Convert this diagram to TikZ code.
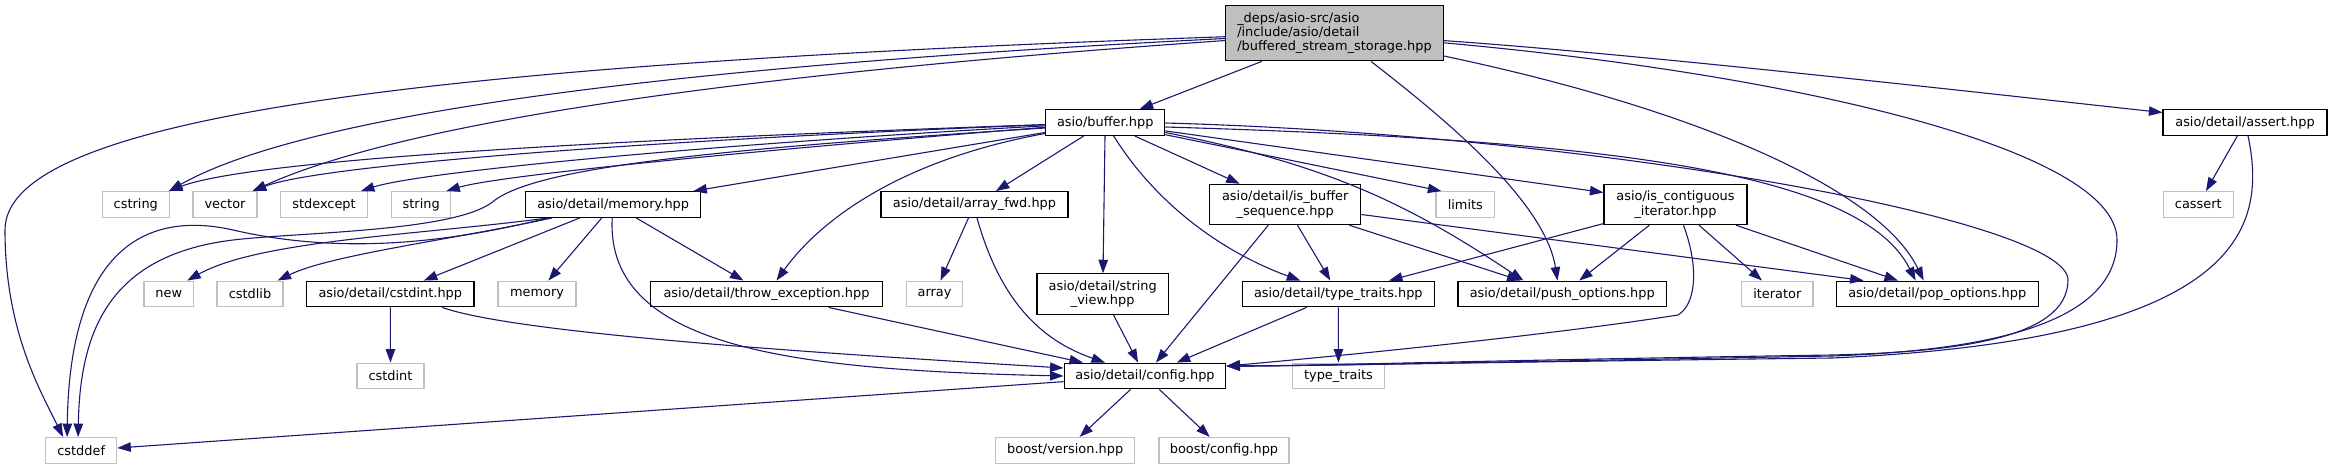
\documentclass[tikz,border=0pt]{standalone}
\usepackage{fontspec}
\setmainfont{DejaVu Sans}
\usetikzlibrary{arrows.meta}
\definecolor{edgeblue}{HTML}{191970}
\definecolor{extgray}{HTML}{C0C0C0}
\definecolor{mainfill}{HTML}{BFBFBF}
\begin{document}
\begin{tikzpicture}[x=1pt,y=-1pt,
  box/.style={rectangle, draw=black, fill=white, line width=1.2pt, inner sep=0pt,
    minimum height=25.7pt, font=\fontsize{12.9pt}{14.3pt}\selectfont, align=center},
  ext/.style={box, draw=extgray},
  two/.style={minimum height=40.3pt},
  edge/.style={draw=edgeblue, line width=1.1pt, -{Triangle[length=13.5pt,width=9.5pt]}},
]
\useasboundingbox (0,0) rectangle (2332,469);

% row 0
\node[box, fill=mainfill, minimum width=217.6pt, minimum height=55.7pt, align=left] (main) at (1334.5,33)
  {\_deps/asio-src/asio\\/include/asio/detail\\/buffered\_stream\_storage.hpp};
% row 1
\node[box, minimum width=119pt] (buffer) at (1105.2,122.5) {asio/buffer.hpp};
\node[box, minimum width=164pt] (assert) at (2245,122.5) {asio/detail/assert.hpp};
% row 2
\node[ext, minimum width=67pt] (cstring) at (135.8,204.5) {cstring};
\node[ext, minimum width=64pt] (vector) at (225,204.5) {vector};
\node[ext, minimum width=86.7pt] (stdexcept) at (324,204.5) {stdexcept};
\node[ext, minimum width=59pt] (string) at (421.2,204.5) {string};
\node[box, minimum width=175pt] (memhpp) at (613.2,204.5) {asio/detail/memory.hpp};
\node[box, minimum width=187pt] (arrayfwd) at (974.5,204.5) {asio/detail/array\_fwd.hpp};
\node[box, two, minimum width=151pt] (isbuf) at (1285.2,204.5) {asio/detail/is\_buffer\\\_sequence.hpp};
\node[ext, minimum width=58.7pt] (limits) at (1465.3,204.5) {limits};
\node[box, two, minimum width=143pt] (iscont) at (1675.5,204.5) {asio/is\_contiguous\\\_iterator.hpp};
\node[ext, minimum width=70pt] (cassert) at (2198.3,204.5) {cassert};
% row 3
\node[ext, minimum width=49.7pt] (new) at (168.8,294) {new};
\node[ext, minimum width=66pt] (cstdlib) at (250,294) {cstdlib};
\node[box, minimum width=167.3pt] (cstdinthpp) at (390.3,294) {asio/detail/cstdint.hpp};
\node[ext, minimum width=78pt] (memory) at (537,294) {memory};
\node[box, minimum width=231.7pt] (throwexc) at (766.5,294) {asio/detail/throw\_exception.hpp};
\node[ext, minimum width=56.3pt] (array) at (934.5,294) {array};
\node[box, two, minimum width=131.3pt] (strview) at (1102.7,294) {asio/detail/string\\\_view.hpp};
\node[box, minimum width=192pt] (tthpp) at (1338.3,294) {asio/detail/type\_traits.hpp};
\node[box, minimum width=208.3pt] (pushopt) at (1562.2,294) {asio/detail/push\_options.hpp};
\node[ext, minimum width=71.3pt] (iterator) at (1777.3,294) {iterator};
\node[box, minimum width=202pt] (popopt) at (1937.2,294) {asio/detail/pop\_options.hpp};
% row 4
\node[ext, minimum width=67pt] (cstdint) at (390.5,376) {cstdint};
\node[box, minimum width=161.7pt] (config) at (1145,376) {asio/detail/config.hpp};
\node[ext, minimum width=92.3pt] (typetraits) at (1338.5,376) {type\_traits};
% row 5
\node[ext, minimum width=71pt] (cstddef) at (81.2,450.5) {cstddef};
\node[ext, minimum width=139pt] (bversion) at (1065.2,450.3) {boost/version.hpp};
\node[ext, minimum width=130pt] (bconfig) at (1224,450.3) {boost/config.hpp};

% main file
\draw[edge] (main) -- (buffer);
\draw[edge] (main) .. controls (800,60) and (330,100) .. ([xshift=-1pt]cstring.north east);
\draw[edge] (main) .. controls (800,70) and (420,115) .. ([xshift=-5pt]vector.north east);
\draw[edge] (main) .. controls (400,65) and (5,120) .. (5,230) .. controls (5,330) and (40,390) .. ([xshift=18pt]cstddef.north west);
\draw[edge] (main) .. controls (1440,115) and (1545,200) .. ([xshift=100pt]pushopt.north west);
\draw[edge] (main) .. controls (1700,110) and (1880,190) .. ([xshift=88pt]popopt.north west);
\draw[edge] (main) .. controls (1650,55) and (2000,95) .. ([yshift=10pt]assert.west);
\draw[edge] (main) .. controls (1800,75) and (2117,150) .. (2117,240) .. controls (2117,320) and (2000,350) .. (1832,356) .. controls (1500,362) and (1300,366) .. ([yshift=10pt]config.east);

% buffer.hpp
\draw[edge] (buffer) .. controls (600,140) and (250,160) .. ([xshift=-1pt]cstring.north east);
\draw[edge] (buffer) .. controls (650,140) and (320,165) .. ([xshift=-5pt]vector.north east);
\draw[edge] (buffer) .. controls (700,145) and (420,172) .. ([xshift=-7pt]stdexcept.north east);
\draw[edge] (buffer) .. controls (760,150) and (500,175) .. ([xshift=-5pt]string.north east);
\draw[edge] (buffer) -- ([xshift=-8pt]memhpp.north east);
\draw[edge] (buffer) .. controls (900,160) and (820,220) .. ([xshift=10pt]throwexc.north);
\draw[edge] ([yshift=-5.5pt]buffer.west) .. controls (700,150) and (540,168) .. (495,200) .. controls (460,232) and (300,232) .. (233,240) .. controls (110,255) and (80,330) .. ([xshift=33pt]cstddef.north west);
\draw[edge] (buffer) -- (arrayfwd);
\draw[edge] (buffer) -- (strview);
\draw[edge] (buffer) .. controls (1160,210) and (1230,255) .. ([xshift=-38pt]tthpp.north);
\draw[edge] (buffer) -- (isbuf);
\draw[edge] (buffer) -- ([xshift=6pt]limits.north west);
\draw[edge] ([yshift=-10pt]buffer.east) .. controls (1330,165) and (1410,205) .. ([xshift=66pt]pushopt.north west);
\draw[edge] (buffer) -- ([yshift=12pt]iscont.west);
\draw[edge] ([yshift=-4.5pt]buffer.east) .. controls (1600,140) and (1860,170) .. ([xshift=80pt]popopt.north west);
\draw[edge] ([yshift=-0.5pt]buffer.east) .. controls (1600,135) and (2068,220) .. (2068,280) .. controls (2068,340) and (1950,352) .. (1832,355) .. controls (1500,360) and (1300,366) .. ([yshift=10pt]config.east);

% is_buffer_sequence
\draw[edge] (isbuf) -- (config);
\draw[edge] (isbuf) -- (tthpp);
\draw[edge] (isbuf) -- (pushopt);
\draw[edge] (isbuf) -- ([xshift=28pt]popopt.north west);

% is_contiguous_iterator
\draw[edge] (iscont) -- (tthpp);
\draw[edge] (iscont) -- (pushopt);
\draw[edge] (iscont) -- (iterator);
\draw[edge] (iscont) -- (popopt);
\draw[edge] ([xshift=8pt]iscont.south) .. controls (1700,270) and (1695,305) .. (1678,315) .. controls (1550,335) and (1350,355) .. ([yshift=10pt]config.east);

% array_fwd
\draw[edge] (arrayfwd) -- (array);
\draw[edge] ([xshift=2.5pt]arrayfwd.south) .. controls (1000,300) and (1040,340) .. ([xshift=-40pt]config.north);

% memory.hpp
\draw[edge] ([xshift=23pt]memhpp.south west) .. controls (420,235) and (260,240) .. ([xshift=-7pt]new.north east);
\draw[edge] ([xshift=27pt]memhpp.south west) .. controls (450,240) and (330,255) .. ([xshift=-6pt]cstdlib.north east);
\draw[edge] (memhpp) -- (cstdinthpp);
\draw[edge] (memhpp) -- (memory);
\draw[edge] (memhpp) -- (throwexc);
\draw[edge] ([xshift=-1pt]memhpp.south) .. controls (605,350) and (800,370) .. (config.west);
\draw[edge] ([xshift=23pt]memhpp.south west) .. controls (420,250) and (320,250) .. (233,230) .. controls (163,214) and (70,230) .. ([xshift=22pt]cstddef.north west);

% cstdint.hpp
\draw[edge] (cstdinthpp) -- (cstdint);
\draw[edge] ([xshift=52pt]cstdinthpp.south) .. controls (520,335) and (850,355) .. ([yshift=8pt]config.west);

% others
\draw[edge] (throwexc) -- (config);
\draw[edge] (strview) -- (config);
\draw[edge] (tthpp) -- (config);
\draw[edge] (tthpp) -- (typetraits);
\draw[edge] (config) -- (cstddef);
\draw[edge] (config) -- (bversion);
\draw[edge] (config) -- (bconfig);
\draw[edge] (assert) -- (cassert);
\draw[edge] ([xshift=3pt]assert.south) .. controls (2268,230) and (2240,340) .. (1832,358) .. controls (1500,362) and (1300,366) .. ([yshift=10pt]config.east);
\end{tikzpicture}
\end{document}
